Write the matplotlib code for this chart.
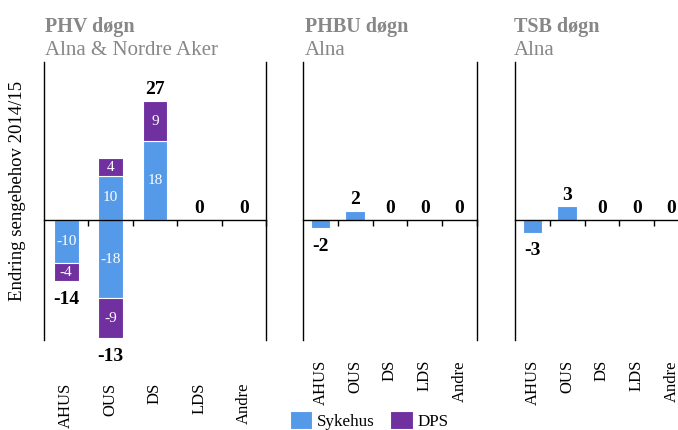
import matplotlib
matplotlib.use("Agg")
import matplotlib.pyplot as plt
from matplotlib.transforms import blended_transform_factory

plt.rcParams['font.family'] = ['Liberation Serif', 'DejaVu Serif']

categories = ['AHUS', 'OUS', 'DS', 'LDS', 'Andre']

# PHV døgn - Alna & Nordre Aker
phv_sykehus_pos = [0, 10, 18, 0, 0]
phv_sykehus_neg = [-10, -18, 0, 0, 0]
phv_dps_pos = [0, 4, 9, 0, 0]
phv_dps_neg = [-4, -9, 0, 0, 0]
phv_total = [-14, -13, 27, 0, 0]

# PHBU døgn - Alna
phbu_sykehus = [-2, 2, 0, 0, 0]
phbu_total = [-2, 2, 0, 0, 0]

# TSB døgn - Alna
tsb_sykehus = [-3, 3, 0, 0, 0]
tsb_total = [-3, 3, 0, 0, 0]

titles = ['PHV døgn', 'PHBU døgn', 'TSB døgn']
subtitles = ['Alna & Nordre Aker', 'Alna', 'Alna']

blue = '#5599E9'
purple = '#7030A0'
grey = '#878787'

W, H = 678, 430
fig = plt.figure(figsize=(W / 100, H / 100), dpi=100)


def px_axes(left, width, top=62, bottom=340):
    return fig.add_axes([left / W, (H - bottom) / H, width / W, (bottom - top) / H])


def setup_axes(ax, label_gap):
    ax.set_xlim(-0.5, 4.5)
    ax.set_ylim(-27.5, 36)
    ax.spines['top'].set_visible(False)
    ax.spines['bottom'].set_position(('data', 0))
    for s in ['left', 'right', 'bottom']:
        ax.spines[s].set_linewidth(1.0)
        ax.spines[s].set_color('black')
    ax.set_yticks([])
    ax.set_xticks([0.5, 1.5, 2.5, 3.5, 4.5])
    ax.set_xticklabels([])
    ax.tick_params(axis='x', direction='out', length=4, width=1, color='black')
    # category names hang under the plot area
    trans = blended_transform_factory(ax.transData, ax.transAxes)
    for i, c in enumerate(categories):
        ax.text(i, -label_gap / 278, c, rotation=90, ha='center', va='top',
                fontsize=12, transform=trans, clip_on=False)


def add_totals(ax, pos_top, neg_bottom, totals):
    for i, t in enumerate(totals):
        if t >= 0:
            ax.annotate(str(t), (i, pos_top[i]), xytext=(0, 5), textcoords='offset points',
                        ha='center', va='baseline', fontsize=14, fontweight='bold')
        else:
            ax.annotate(str(t), (i, neg_bottom[i]), xytext=(0, -7), textcoords='offset points',
                        ha='center', va='top', fontsize=14, fontweight='bold')


bw = 0.56

# panel 1
ax1 = px_axes(44, 222)
setup_axes(ax1, 43)
b1 = ax1.bar(range(5), phv_sykehus_pos, bw, color=blue, edgecolor='white', linewidth=0.8, label='Sykehus')
ax1.bar(range(5), phv_sykehus_neg, bw, color=blue, edgecolor='white', linewidth=0.8)
b2 = ax1.bar(range(5), phv_dps_pos, bw, bottom=phv_sykehus_pos, color=purple,
             edgecolor='white', linewidth=0.8, label='DPS')
ax1.bar(range(5), phv_dps_neg, bw, bottom=phv_sykehus_neg, color=purple,
        edgecolor='white', linewidth=0.8)
for i in range(5):
    segs = [(0, phv_sykehus_pos[i]), (0, phv_sykehus_neg[i]),
            (phv_sykehus_pos[i], phv_dps_pos[i]), (phv_sykehus_neg[i], phv_dps_neg[i])]
    for base, v in segs:
        if v != 0:
            ax1.text(i, base + v / 2, str(v), ha='center', va='center',
                     color='white', fontsize=11)
pos_top = [a + b for a, b in zip(phv_sykehus_pos, phv_dps_pos)]
neg_bot = [a + b for a, b in zip(phv_sykehus_neg, phv_dps_neg)]
add_totals(ax1, pos_top, neg_bot, phv_total)

# panel 2
ax2 = px_axes(303, 174)
setup_axes(ax2, 20)
ax2.bar(range(5), phbu_sykehus, bw, color=blue, edgecolor='white', linewidth=0.8)
add_totals(ax2, [max(v, 0) for v in phbu_sykehus], [min(v, 0) for v in phbu_sykehus], phbu_total)

# panel 3 (runs past the right edge, as in the source)
ax3 = px_axes(515, 174)
setup_axes(ax3, 20)
ax3.bar(range(5), tsb_sykehus, bw, color=blue, edgecolor='white', linewidth=0.8)
add_totals(ax3, [max(v, 0) for v in tsb_sykehus], [min(v, 0) for v in tsb_sykehus], tsb_total)

for x, t, s in zip([45, 305, 514], titles, subtitles):
    fig.text(x / W, 1 - 32 / H, t, ha='left', va='baseline', fontsize=14.5,
             fontweight='bold', color=grey)
    fig.text(x / W, 1 - 55 / H, s, ha='left', va='baseline', fontsize=15, color=grey)

fig.text(18 / W, 1 - 191 / H, 'Endring sengebehov 2014/15', rotation=90,
         ha='center', va='center', fontsize=13.5)

fig.legend([b1, b2], ['Sykehus', 'DPS'], loc='upper left', bbox_to_anchor=(290 / W, 1 - 411 / H),
           ncol=2, frameon=False, fontsize=12.3, handlelength=1.3, handleheight=1.2,
           handletextpad=0.3, columnspacing=0.9, borderpad=0, borderaxespad=0)

fig.savefig('out.png', dpi=100)
